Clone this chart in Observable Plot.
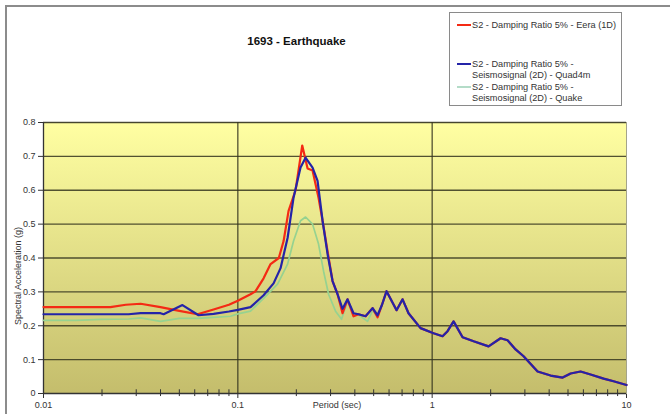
<!DOCTYPE html>
<html><head><meta charset="utf-8">
<script src="https://cdn.jsdelivr.net/npm/d3@7"></script>
<script src="https://cdn.jsdelivr.net/npm/@observablehq/plot@0.6"></script>
<style>
html,body{margin:0;padding:0;background:#fff;overflow:hidden;width:670px;height:414px;}
#wrap{position:relative;width:670px;height:414px;font-family:"Liberation Sans",Arial,sans-serif;color:#333;}
#border{position:absolute;left:5px;top:5px;width:720px;height:460px;border:2px solid #8c8c8c;box-sizing:border-box;}
#chart{position:absolute;left:0;top:0;}
#title{position:absolute;left:0;width:593px;top:35px;text-align:center;font-weight:bold;font-size:11.5px;line-height:13px;color:#111;}
#legend{position:absolute;left:449px;top:12px;width:173px;height:94px;border:1px solid #8a8a8a;background:#fff;box-sizing:border-box;}
.lg{position:absolute;left:22px;font-size:9.2px;line-height:11px;color:#333;white-space:nowrap;}
.sw{position:absolute;left:7px;width:14px;height:2px;}
#ylab{position:absolute;left:18px;top:276px;transform:translate(-50%,-50%) rotate(-90deg);font-size:9px;white-space:nowrap;color:#333;}
#xlab{position:absolute;left:337px;top:400px;transform:translateX(-50%);font-size:9px;line-height:11px;white-space:nowrap;color:#333;}
</style></head>
<body><div id="wrap">
<div id="border"></div>
<div id="chart"></div>
<div id="title">1693 - Earthquake</div>
<div id="legend"></div>
<div id="ylab">Spectral Acceleration (g)</div>
<div id="xlab">Period (sec)</div>
</div>
<script>
// ---- data ----
const seriesNames = [
  ["S2 - Damping Ratio 5% - Eera (1D)"],
  ["S2 - Damping Ratio 5% -", "Seismosignal (2D) - Quad4m"],
  ["S2 - Damping Ratio 5% -", "Seismosignal (2D) - Quake"]
];
const seriesColors = ["#f42a14", "#2424a8", "#96d290"];
const legendSwatch = ["#f42a14", "#2424a8", "#b4dcc8"];

const eeraPeriod = [0.01,0.0221,0.0265,0.0316,0.04,0.05,0.062,0.075,0.09,0.1,0.1162,0.1234,0.1357,0.1474,0.1625,0.1720,0.1824,0.1982,0.2145,0.2285,0.2424,0.2602,0.2729,0.2895,0.3072,0.326,0.3458,0.3669,0.3939,0.418,0.4542,0.4935,0.5236,0.552];
const eeraSA     = [0.255,0.255,0.262,0.265,0.255,0.244,0.234,0.248,0.262,0.274,0.293,0.302,0.34,0.382,0.400,0.45,0.539,0.6,0.732,0.664,0.658,0.578,0.51,0.42,0.332,0.293,0.237,0.278,0.228,0.234,0.228,0.252,0.225,0.262];

const quadPeriod = [0.01,0.0274,0.0316,0.04,0.0415,0.0519,0.0628,0.075,0.09,0.1,0.1162,0.1357,0.1527,0.1659,0.1803,0.1935,0.2102,0.2231,0.2424,0.2572,0.2729,0.2895,0.3072,0.326,0.3458,0.3669,0.3939,0.418,0.4542,0.4935,0.5236,0.552];
const quadSA     = [0.234,0.234,0.237,0.237,0.234,0.261,0.231,0.235,0.242,0.247,0.255,0.29,0.325,0.37,0.459,0.578,0.667,0.696,0.667,0.628,0.51,0.412,0.332,0.293,0.25,0.278,0.237,0.234,0.228,0.252,0.231,0.262];

const quakePeriod = [0.01,0.0147,0.0197,0.0274,0.0316,0.04,0.05,0.062,0.075,0.0917,0.1,0.1162,0.1357,0.1601,0.1803,0.1935,0.2102,0.2231,0.2424,0.2602,0.2762,0.293,0.3183,0.3417,0.3669,0.3939,0.418,0.4651,0.4935,0.5236,0.552];
const quakeSA     = [0.216,0.216,0.219,0.22,0.223,0.213,0.222,0.222,0.225,0.228,0.235,0.243,0.281,0.323,0.382,0.45,0.51,0.521,0.5,0.441,0.361,0.293,0.243,0.219,0.272,0.235,0.232,0.213,0.245,0.228,0.26];

// common long-period tail (all three curves coincide)
const tailPeriod = [0.5826,0.6559,0.7041,0.7557,0.8716,1.0167,1.131,1.2,1.2886,1.4338,1.634,1.951,2.249,2.443,2.687,2.954,3.487,4.068,4.691,5.158,5.804,6.535,7.625,8.58,10];
const tailSA     = [0.302,0.246,0.278,0.237,0.193,0.178,0.169,0.184,0.213,0.166,0.154,0.139,0.163,0.157,0.13,0.11,0.065,0.053,0.047,0.059,0.065,0.056,0.044,0.036,0.025];

const xTicks = [0.01, 0.1, 1, 10];
const xTickLabels = ["0.01", "0.1", "1", "10"];
const xMinor = [0.02,0.03,0.04,0.05,0.06,0.07,0.08,0.09,0.2,0.3,0.4,0.5,0.6,0.7,0.8,0.9,2,3,4,5,6,7,8,9];
const yTicks = [0, 0.1, 0.2, 0.3, 0.4, 0.5, 0.6, 0.7, 0.8];
const yTickLabels = ["0", "0.1", "0.2", "0.3", "0.4", "0.5", "0.6", "0.7", "0.8"];

// ---- build tables ----
const mk = (P, S) => P.map((T, i) => ({T, SA: S[i]})).concat(tailPeriod.map((T, i) => ({T, SA: tailSA[i]})));
const eera = mk(eeraPeriod, eeraSA);
const quad = mk(quadPeriod, quadSA);
const quake = mk(quakePeriod, quakeSA);

const gradient = () => {
  const defs = d3.create("svg:defs");
  const g = defs.append("linearGradient").attr("id", "bg").attr("x1", 0).attr("y1", 0).attr("x2", 0).attr("y2", 1);
  g.append("stop").attr("offset", "0%").attr("stop-color", "#ffffa2");
  g.append("stop").attr("offset", "100%").attr("stop-color", "#c4bd6c");
  return defs.node();
};

const chart = Plot.plot({
  width: 670, height: 414,
  marginLeft: 43, marginRight: 44, marginTop: 122, marginBottom: 21,
  style: {fontFamily: "Liberation Sans, Arial, sans-serif", fontSize: "9px", color: "#333", background: "transparent", overflow: "visible"},
  x: {type: "log", domain: [0.01, 10], ticks: xTicks, tickFormat: d => xTickLabels[xTicks.indexOf(d)] ?? "", label: null, tickSize: 5, tickPadding: 3},
  y: {domain: [0, 0.8], ticks: yTicks, tickFormat: d => yTickLabels[yTicks.indexOf(d)] ?? "", label: null, tickSize: 5, tickPadding: 3},
  marks: [
    gradient,
    Plot.frame({fill: "url(#bg)", stroke: "#a4a48a", strokeWidth: 1}),
    Plot.ruleY(yTicks.slice(1), {stroke: "#35351f", strokeWidth: 1.3, strokeOpacity: 0.85}),
    Plot.ruleX(xTicks.slice(1, 3), {stroke: "#35351f", strokeWidth: 1.3, strokeOpacity: 0.85}),
    Plot.ruleY([0], {stroke: "#333", strokeWidth: 1.3}),
    Plot.ruleX([0.01], {stroke: "#333", strokeWidth: 1.3}),
    Plot.ruleX(xMinor, {y1: -0.009, y2: 0.011, stroke: "#333", strokeWidth: 1}),
    Plot.line(quake, {x: "T", y: "SA", stroke: seriesColors[2], strokeWidth: 1.7}),
    Plot.line(eera, {x: "T", y: "SA", stroke: seriesColors[0], strokeWidth: 2.2}),
    Plot.line(quad, {x: "T", y: "SA", stroke: seriesColors[1], strokeWidth: 2.2})
  ]
});
document.getElementById("chart").appendChild(chart);

// legend
const lg = document.getElementById("legend");
const rowsTop = [[6.5], [45.5, 56.5], [68.5, 79.5]];
seriesNames.forEach((lines, i) => {
  const sw = document.createElement("div");
  sw.className = "sw";
  sw.style.background = legendSwatch[i];
  sw.style.top = (rowsTop[i][0] + 4.5) + "px";
  lg.appendChild(sw);
  lines.forEach((t, j) => {
    const d = document.createElement("div");
    d.className = "lg";
    d.style.top = rowsTop[i][j] + "px";
    d.textContent = t;
    lg.appendChild(d);
  });
});
</script>
</body></html>
